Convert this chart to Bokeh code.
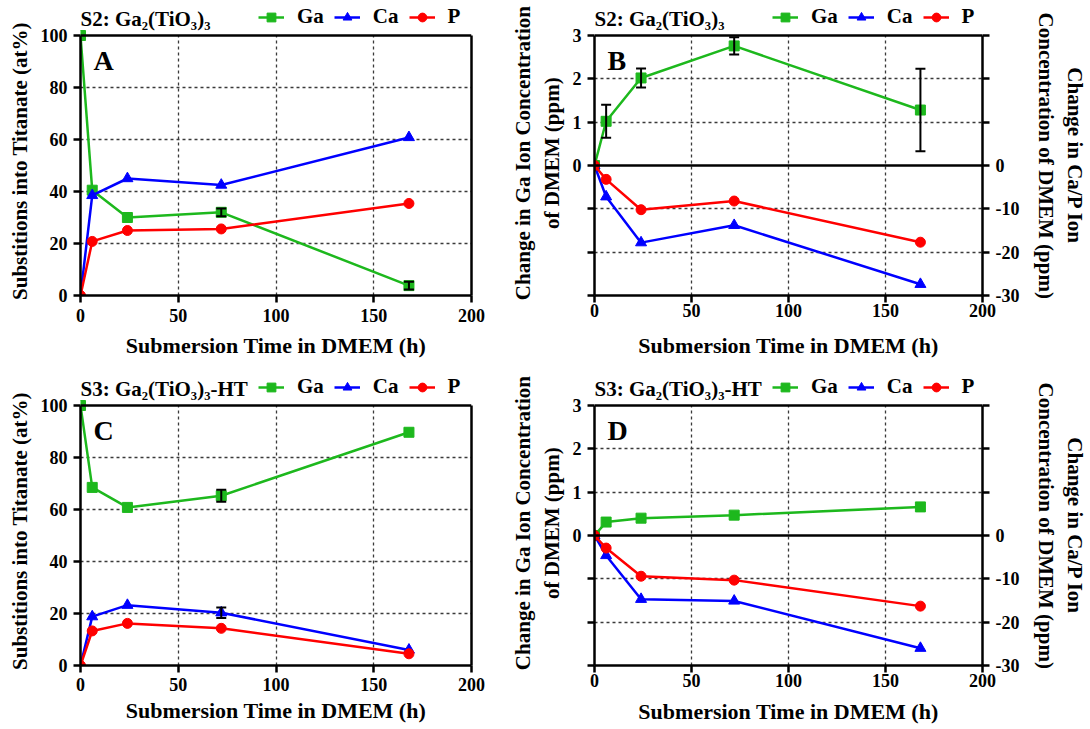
from bokeh.plotting import figure
from bokeh.models import (Range1d, LinearAxis, FixedTicker, Span, Label, Legend,
                          LegendItem, Whisker, ColumnDataSource, TeeHead)
from bokeh.layouts import column, row
from bokeh.embed import file_html
from bokeh.resources import INLINE

FONT = "Liberation Serif"
GREEN = "#1DB81D"
BLUE = "#0000FF"
RED = "#FF0000"
PLOT_H = 260   # height of the boxed plot area (px)
HDR = 30       # header strip (title + legend) inside the frame, above the box (px)
NBSP = "\u00a0"

# ---------------- data ----------------
time_h = [0, 6, 24, 72, 168]
x_ticks = [0, 50, 100, 150, 200]

# Panel A: S2 Ga2(TiO3)3, substitutions into titanate (at%)
a_ga = [100, 40.5, 30.0, 32.0, 3.8]
a_ga_err = [0, 0, 0, 1.5, 1.5]
a_ca = [0, 38.5, 45.0, 42.5, 60.8]
a_ca_err = [0, 0, 0, 0, 0]
a_p = [0, 20.8, 25.0, 25.6, 35.4]

# Panel B: S2 change in ion concentration of DMEM (ppm)
b_ga = [0, 1.02, 2.02, 2.76, 1.28]
b_ga_err = [0, 0.38, 0.22, 0.20, 0.95]
b_ca = [0, -7.2, -17.8, -13.8, -27.4]
b_p = [0, -3.2, -10.2, -8.2, -17.7]

# Panel C: S3 Ga2(TiO3)3-HT, substitutions into titanate (at%)
c_ga = [100, 68.5, 60.8, 65.3, 89.7]
c_ga_err = [0, 0, 0, 2.3, 0]
c_ca = [0, 18.8, 23.2, 20.3, 6.0]
c_ca_err = [0, 0, 0, 2.0, 0]
c_p = [0, 13.3, 16.2, 14.3, 4.5]

# Panel D: S3 change in ion concentration of DMEM (ppm)
d_ga = [0, 0.31, 0.40, 0.47, 0.66]
d_ga_err = [0, 0, 0, 0, 0]
d_ca = [0, -4.6, -14.7, -15.1, -26.0]
d_p = [0, -2.9, -9.4, -10.3, -16.3]

at_ticks = [0, 20, 40, 60, 80, 100]
ga_ticks = [-3, -2, -1, 0, 1, 2, 3]
cap_ticks = [-30, -20, -10, 0, 10, 20, 30]

title_s2 = "S2: Ga\u2082(TiO\u2083)\u2083"
title_s3 = "S3: Ga\u2082(TiO\u2083)\u2083-HT"
x_label = "Submersion Time in DMEM (h)"
y_label_at = "Substitions into Titanate (at%)"
y_label_ga = ["Change in Ga Ion Concentration", "of DMEM (ppm)"]
y_label_cap = ["Change in Ca/P Ion", "Concentration of DMEM (ppm)"]


def style_axis(ax, label_standoff=8, tick_standoff=6, label_size="22px"):
    ax.axis_line_width = 2.5
    ax.axis_line_color = "black"
    ax.major_tick_line_width = 2.5
    ax.major_tick_line_color = "black"
    ax.major_tick_out = 7
    ax.major_tick_in = 0
    ax.minor_tick_line_color = None
    ax.major_label_text_font = FONT
    ax.major_label_text_font_size = "18px"
    ax.major_label_text_font_style = "bold"
    ax.major_label_text_color = "black"
    ax.major_label_standoff = tick_standoff
    ax.axis_label_text_font = FONT
    ax.axis_label_text_font_size = label_size
    ax.axis_label_text_font_style = "bold"
    ax.axis_label_text_color = "black"
    ax.axis_label_standoff = label_standoff


def add_err(p, y, err, range_name="default"):
    xs = [t for t, e in zip(time_h, err) if e > 0]
    ys = [v for v, e in zip(y, err) if e > 0]
    es = [e for e in err if e > 0]
    if not xs:
        return
    src = ColumnDataSource(dict(base=xs, upper=[v + e for v, e in zip(ys, es)],
                                lower=[v - e for v, e in zip(ys, es)]))
    w = Whisker(base="base", upper="upper", lower="lower", source=src,
                dimension="height", line_color="black", line_width=2,
                upper_head=TeeHead(size=10, line_width=2, line_color="black"),
                lower_head=TeeHead(size=10, line_width=2, line_color="black"),
                level="overlay")
    if range_name != "default":
        w.y_range_name = range_name
    p.add_layout(w)


def extended(lo, hi):
    # range whose [lo, hi] part fills PLOT_H px, leaving HDR px above for the header
    return Range1d(lo, lo + (hi - lo) * (PLOT_H + HDR) / PLOT_H)


def make_panel(kind, letter, title, ga, ga_err, ca, ca_err, p_vals, top_row):
    if kind == "at":
        width, left, right = 490, 80, 19
        lo, hi = 0, 100
    else:
        width, left, right = 600, 104, 104
        lo, hi = -3, 3
    if top_row:
        height, top = 364, 5
    else:
        height, top = 365, 11
    bottom = height - top - PLOT_H - HDR
    p = figure(width=width, height=height, x_range=Range1d(0, 200),
               y_range=extended(lo, hi),
               output_backend="svg", toolbar_location=None,
               min_border_left=left, min_border_right=right,
               min_border_top=top, min_border_bottom=bottom)
    p.background_fill_color = "white"
    p.border_fill_color = "white"
    p.outline_line_color = None

    # axes
    xa = p.xaxis[0]
    xa.ticker = FixedTicker(ticks=x_ticks)
    xa.axis_label = x_label
    if kind == "at":
        style_axis(xa, label_standoff=8 if top_row else 4, tick_standoff=6 if top_row else 5)
    else:
        style_axis(xa, label_standoff=13 if top_row else 9, tick_standoff=1)
    ya = p.yaxis[0]
    ya.bounds = (lo, hi)
    if kind == "at":
        style_axis(ya, label_standoff=6, label_size="21px")
        ya.ticker = FixedTicker(ticks=at_ticks)
        ya.axis_label = y_label_at + NBSP * 4
        p.ygrid.ticker = FixedTicker(ticks=[20, 40, 60, 80])
        rb = LinearAxis(ticker=FixedTicker(ticks=[]), bounds=(lo, hi))
        style_axis(rb)
        p.add_layout(rb, "right")
    else:
        style_axis(ya, label_standoff=6, label_size="21px")
        ya.ticker = FixedTicker(ticks=ga_ticks)
        ya.major_label_overrides = {-3: "", -2: "", -1: "", 0: "0", 1: "1", 2: "2", 3: "3"}
        ya.axis_label = "\n".join(s + NBSP for s in y_label_ga)
        p.extra_y_ranges = {"cap": extended(-30, 30)}
        ra = LinearAxis(y_range_name="cap", ticker=FixedTicker(ticks=cap_ticks),
                        axis_label="\n".join(NBSP * 2 + s for s in y_label_cap),
                        bounds=(-30, 30))
        ra.major_label_overrides = {30: "", 20: "", 10: "", 0: "0",
                                    -10: "-10", -20: "-20", -30: "-30"}
        style_axis(ra, label_standoff=12, label_size="21px")
        p.add_layout(ra, "right")
        p.ygrid.ticker = FixedTicker(ticks=[-2, -1, 1, 2])
        p.add_layout(Span(location=0, dimension="width", line_color="black",
                          line_width=2.5))
    # top edge of the box
    p.add_layout(Span(location=hi, dimension="width", line_color="black", line_width=2.5))

    p.xgrid.ticker = FixedTicker(ticks=[50, 100, 150])
    for g in (p.xgrid, p.ygrid):
        g.grid_line_color = "#3a3a3a"
        g.grid_line_dash = "3 3"
        g.grid_line_width = 1.3
    if "cross_bounds" in p.xgrid[0].properties():
        p.xgrid.cross_bounds = (lo, hi)
    else:
        p.xgrid.visible = False
        p.segment(x0=x_ticks[1:-1], y0=[lo] * 3, x1=x_ticks[1:-1], y1=[hi] * 3,
                  line_color="#3a3a3a", line_dash="3 3", line_width=1.3)

    cap_range = "default" if kind == "at" else "cap"

    # Ga
    l_ga = p.line(time_h, ga, line_color=GREEN, line_width=2.5)
    s_ga = p.scatter(time_h, ga, marker="square", size=10, fill_color=GREEN,
                     line_color=GREEN)
    add_err(p, ga, ga_err)
    # Ca
    l_ca = p.line(time_h, ca, line_color=BLUE, line_width=2.5, y_range_name=cap_range)
    s_ca = p.scatter(time_h, ca, marker="triangle", size=11, fill_color=BLUE,
                     line_color=BLUE, y_range_name=cap_range)
    add_err(p, ca, ca_err, cap_range)
    # P
    l_p = p.line(time_h, p_vals, line_color=RED, line_width=2.5, y_range_name=cap_range)
    s_p = p.scatter(time_h, p_vals, marker="circle", size=10, fill_color=RED,
                    line_color=RED, y_range_name=cap_range)

    legend = Legend(items=[LegendItem(label="Ga", renderers=[l_ga, s_ga]),
                           LegendItem(label="Ca", renderers=[l_ca, s_ca]),
                           LegendItem(label="P", renderers=[l_p, s_p])],
                    orientation="horizontal", location=(178, PLOT_H + 6))
    legend.label_text_font = FONT
    legend.label_text_font_size = "21px"
    legend.label_text_font_style = "bold"
    legend.label_text_color = "black"
    legend.glyph_width = 26
    legend.glyph_height = 22
    legend.label_height = 22
    legend.label_standoff = 13
    legend.spacing = 10
    legend.padding = 0
    legend.margin = 0
    legend.border_line_color = None
    legend.background_fill_alpha = 0
    p.add_layout(legend)

    p.add_layout(Label(x=0, y=PLOT_H + 17, x_units="screen", y_units="screen",
                       text=title, text_font=FONT, text_font_size="21px",
                       text_font_style="bold", text_color="black",
                       text_baseline="middle"))
    p.add_layout(Label(x=13, y=PLOT_H - 9, x_units="screen", y_units="screen", text=letter,
                       text_font=FONT, text_font_size="28px", text_font_style="bold",
                       text_color="black", text_baseline="top"))
    return p


pA = make_panel("at", "A", title_s2, a_ga, a_ga_err, a_ca, a_ca_err, a_p, True)
pB = make_panel("ppm", "B", title_s2, b_ga, b_ga_err, b_ca, [0] * 5, b_p, True)
pC = make_panel("at", "C", title_s3, c_ga, c_ga_err, c_ca, c_ca_err, c_p, False)
pD = make_panel("ppm", "D", title_s3, d_ga, d_ga_err, d_ca, [0] * 5, d_p, False)

layout = column(row(pA, pB), row(pC, pD))
open("out.html", "w").write(file_html(layout, INLINE))
